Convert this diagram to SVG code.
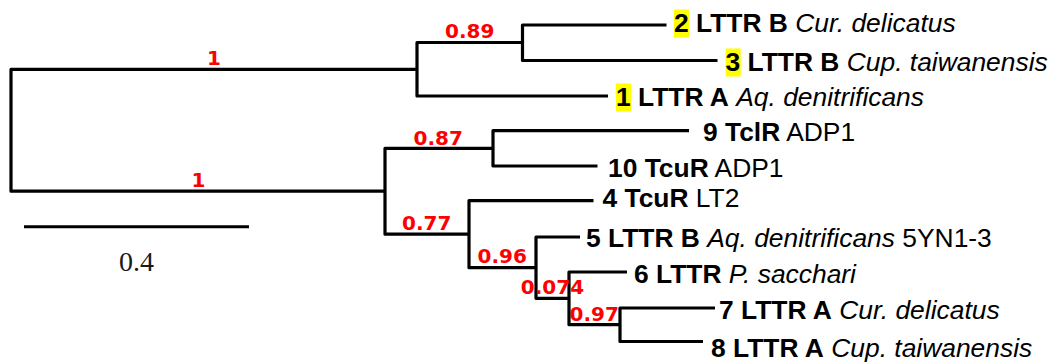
<svg xmlns="http://www.w3.org/2000/svg" width="1058" height="362" viewBox="0 0 1058 362">
<style>
.br{fill:none;stroke:#000;stroke-width:3.2;stroke-linejoin:round;stroke-linecap:butt}
.lf{font-family:"Liberation Sans",Arial,sans-serif;font-size:26.4px;fill:#000}
.b{font-weight:bold}
.i{font-style:italic}
.hl{fill:#ffff00}
.sv{font-family:"DejaVu Sans",sans-serif;font-weight:bold;font-size:20px;fill:#ff0000;text-anchor:middle}
.sc{font-family:"Liberation Serif","Times New Roman",serif;font-size:28px;fill:#1a1a1a;text-anchor:middle}
</style>
<rect width="1058" height="362" fill="#fff"/>
<g id="connectors">
<path class="br" d="M417,69.3 H11 V191.2 H385"/>
<path class="br" d="M522,42.5 H417 V96 H608"/>
<path class="br" d="M666.5,25 H522.5 V60.5 H717.5"/>
<path class="br" d="M493,148.3 H385 V234.2 H469"/>
<path class="br" d="M689,130.7 H493 V166 H597.5"/>
<path class="br" d="M593.5,200.7 H469 V267.7 H536"/>
<path class="br" d="M580,237 H536 V298.3 H569"/>
<path class="br" d="M627,272 H569 V324.7 H620"/>
<path class="br" d="M715,308 H620 V341.5 H703"/>
</g>
<g id="support">
<text class="sv" x="214" y="64.5">1</text>
<text class="sv" x="198.5" y="187">1</text>
<text class="sv" x="469.7" y="38">0.89</text>
<text class="sv" x="438.3" y="144.5">0.87</text>
<text class="sv" x="426.7" y="230">0.77</text>
<text class="sv" x="502.3" y="263.3">0.96</text>
<text class="sv" x="552.5" y="294.3">0.074</text>
<text class="sv" x="594.2" y="321">0.97</text>
</g>
<g id="leaf2">
<rect class="hl" x="674" y="9.5" width="15" height="28"/>
<text class="lf" x="674" y="32"><tspan class="b">2 LTTR B</tspan> <tspan class="i">Cur. delicatus</tspan></text>
</g>
<g id="leaf3">
<rect class="hl" x="725.7" y="48.5" width="15" height="28"/>
<text class="lf" x="725.5" y="71"><tspan class="b">3 LTTR B</tspan> <tspan class="i">Cup. taiwanensis</tspan></text>
</g>
<g id="leaf1">
<rect class="hl" x="616" y="83.5" width="15" height="28"/>
<text class="lf" x="616" y="106"><tspan class="b">1 LTTR A</tspan> <tspan class="i">Aq. denitrificans</tspan></text>
</g>
<g id="leaf9">
<text class="lf" x="703" y="140.7"><tspan class="b">9 TclR</tspan> ADP1</text>
</g>
<g id="leaf10">
<text class="lf" x="608" y="176.5"><tspan class="b">10 TcuR</tspan> ADP1</text>
</g>
<g id="leaf4">
<text class="lf" x="602.5" y="206.5"><tspan class="b">4 TcuR</tspan> LT2</text>
</g>
<g id="leaf5">
<text class="lf" x="586" y="246.7"><tspan class="b">5 LTTR B</tspan> <tspan class="i">Aq. denitrificans</tspan> 5YN1-3</text>
</g>
<g id="leaf6">
<text class="lf" x="634" y="283.3"><tspan class="b">6 LTTR</tspan> <tspan class="i">P. sacchari</tspan></text>
</g>
<g id="leaf7">
<text class="lf" x="719" y="319.3"><tspan class="b">7 LTTR A</tspan> <tspan class="i">Cur. delicatus</tspan></text>
</g>
<g id="leaf8">
<text class="lf" x="711" y="357.3"><tspan class="b">8 LTTR A</tspan> <tspan class="i">Cup. taiwanensis</tspan></text>
</g>
<g id="scalebar">
<line x1="24" y1="226.7" x2="249" y2="226.7" stroke="#000" stroke-width="3"/>
<text class="sc" x="136.5" y="270.7">0.4</text>
</g>
</svg>
